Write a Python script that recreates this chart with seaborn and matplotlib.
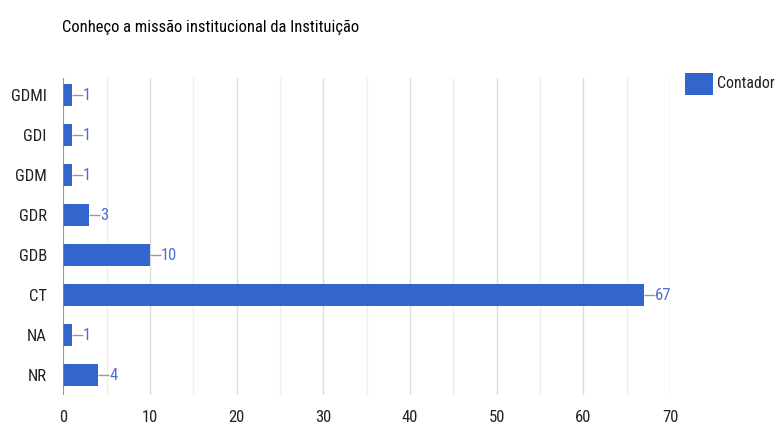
import matplotlib
matplotlib.use("Agg")
import matplotlib.pyplot as plt
from matplotlib import font_manager
from matplotlib.patches import Rectangle
import seaborn as sns
import pandas as pd

categories = ["GDMI", "GDI", "GDM", "GDR", "GDB", "CT", "NA", "NR"]
counts = [1, 1, 1, 3, 10, 67, 1, 4]
series_name = "Contador"
title = "Conheço a missão institucional da Instituição"

sns.set_theme(style="white")
names = {f.name for f in font_manager.fontManager.ttflist}
preferred = ["Roboto Condensed", "Liberation Sans Narrow", "Liberation Sans"]
family = [f for f in preferred if f in names][:1] or ["DejaVu Sans"]
plt.rcParams["font.family"] = family + ["DejaVu Sans"]

BLUE = "#3366cc"
df = pd.DataFrame({"cat": categories, "val": counts})

fig = plt.figure(figsize=(7.77, 4.30), dpi=100)
ax = fig.add_axes([0.0817, 0.0814, 0.7806, 0.7372])

sns.barplot(data=df, y="cat", x="val", orient="h", color=BLUE, saturation=1,
            width=0.55, ax=ax, edgecolor="none")

ax.set_xlim(0, 70)
ax.set_ylim(7.5, -0.43)
ax.set_xticks(range(0, 71, 10))
ax.set_xticks(range(5, 70, 10), minor=True)
ax.grid(axis="x", which="major", color="#dcdcdc", lw=1)
ax.grid(axis="x", which="minor", color="#eeeeee", lw=1)
ax.set_axisbelow(True)
for s in ax.spines.values():
    s.set_visible(False)
ax.axvline(0, color="#888888", lw=1.2, zorder=3)
ax.set_xlabel("")
ax.set_ylabel("")
ax.tick_params(axis="both", which="both", length=0, labelsize=12, colors="#222222")
ax.tick_params(axis="x", pad=11)
ax.tick_params(axis="y", pad=12)

# value annotations with short leader lines
px = 70 / 606.5
for i, v in enumerate(counts):
    ax.plot([v, v + 11 * px], [i, i], color="#999999", lw=1, zorder=2, solid_capstyle="butt")
    ax.text(v + 11 * px, i, str(v), va="center", ha="left", fontsize=12, color="#4d6fd1")

fig.text(0.0795, 0.937, title, fontsize=11.9, color="#000000", ha="left", va="center")

# legend
fig.patches.append(Rectangle((685 / 777, 1 - 95 / 430), 28 / 777, 22 / 430,
                             transform=fig.transFigure, facecolor=BLUE, edgecolor="none"))
fig.text(717 / 777, 1 - 84 / 430, series_name, fontsize=11.3, color="#222222", ha="left", va="center")

fig.savefig("out.png", dpi=100)
